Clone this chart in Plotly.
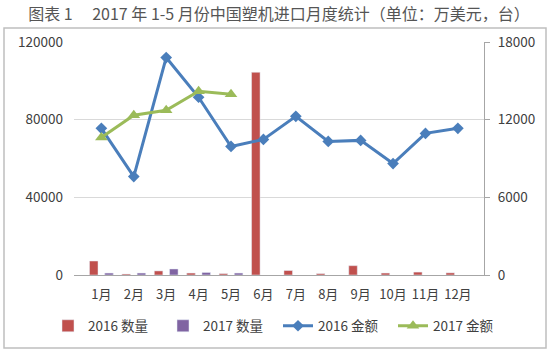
import plotly.graph_objects as go

months = ["1月", "2月", "3月", "4月", "5月", "6月", "7月", "8月", "9月", "10月", "11月", "12月"]
qty_2016 = [7200, 500, 2100, 1000, 700, 104400, 2300, 700, 4800, 1000, 1500, 1100]
qty_2017 = [1000, 1000, 3100, 1300, 1000, None, None, None, None, None, None, None]
amt_2016 = [11330, 7600, 16800, 13730, 9930, 10470, 12260, 10320, 10400, 8610, 10940, 11330]
amt_2017 = [10630, 12340, 12720, 14200, 13970]

left_ticks = [0, 40000, 80000, 120000]
right_ticks = [0, 6000, 12000, 18000]

W, H = 550, 354
L, R, T, B = 74, 66, 42, 79
pw, ph = W - L - R, H - T - B

def px(x):
    return (x - L) / pw

def py(y):
    return (H - B - y) / ph

FONT = "Noto Sans CJK SC, Noto Sans, sans-serif"
TXT = "#404040"

fig = go.Figure()
fig.add_trace(go.Bar(x=months, y=qty_2016, name="2016 数量", marker_color="#c0504d", yaxis="y"))
fig.add_trace(go.Bar(x=months, y=qty_2017, name="2017 数量", marker_color="#8064a2", yaxis="y"))
fig.add_trace(go.Scatter(x=months, y=amt_2016, name="2016 金额", mode="lines+markers",
                         line=dict(color="#4a7ebb", width=3),
                         marker=dict(symbol="diamond", size=9, color="#4a7ebb"), yaxis="y2"))
fig.add_trace(go.Scatter(x=months[:len(amt_2017)], y=amt_2017, name="2017 金额", mode="lines+markers",
                         line=dict(color="#9bbb59", width=3),
                         marker=dict(symbol="triangle-up", size=11, color="#9bbb59"), yaxis="y2"))

fig.update_layout(
    width=W, height=H,
    margin=dict(l=L, r=R, t=T, b=B),
    paper_bgcolor="white", plot_bgcolor="white",
    font=dict(family=FONT, size=13, color=TXT),
    barmode="group", bargap=0.06, bargroupgap=0.44,
    xaxis=dict(type="category", showline=True, linecolor="#a6a6a6", linewidth=1,
               showgrid=False, ticks="", tickfont=dict(size=13, color=TXT),
               ticklabelstandoff=7),
    yaxis=dict(range=[0, 120000], tickvals=left_ticks, tickformat="d", showgrid=True,
               gridcolor="#d9d9d9", gridwidth=1, zeroline=False, showline=False, ticks="",
               tickfont=dict(size=13.5, color=TXT), ticklabelstandoff=10),
    yaxis2=dict(range=[0, 18000], tickvals=right_ticks, tickformat="d", overlaying="y",
                side="right", showgrid=False, zeroline=False, showline=True,
                linecolor="#a6a6a6", ticks="outside", ticklen=5, tickcolor="#a6a6a6",
                tickfont=dict(size=13.5, color=TXT), ticklabelstandoff=5),
    showlegend=True,
    legend=dict(orientation="h", x=px(48), xanchor="left", y=py(326), yanchor="middle",
                entrywidth=70, entrywidthmode="pixels", itemwidth=30,
                font=dict(size=13.5, color=TXT), bgcolor="rgba(0,0,0,0)"),
    title=dict(text="图表 1　 2017 年 1-5 月份中国塑机进口月度统计（单位：万美元，台）",
               x=0.5, xanchor="center", y=1 - 14 / H, yanchor="middle", xref="paper",
               font=dict(size=16, color="#555555", family=FONT)),
    shapes=[dict(type="rect", xref="paper", yref="paper",
                 x0=px(4), x1=px(546), y0=py(348), y1=py(28),
                 line=dict(color="#bfbfbf", width=1.5), layer="below")],
)

fig.write_html("out.html")
